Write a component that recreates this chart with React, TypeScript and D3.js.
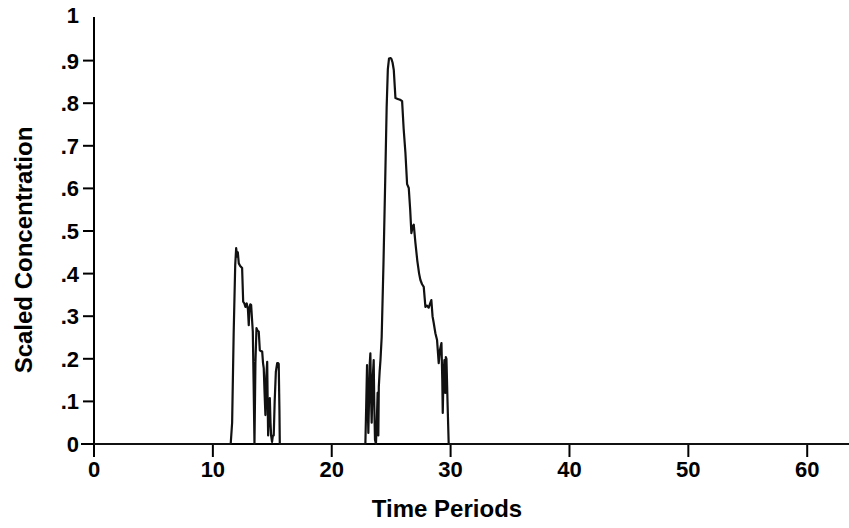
import React, { useEffect, useRef } from 'react';
import * as d3 from 'd3';

// readings taken off the scanned curve (time period, scaled concentration)
const times = [
  0, 11.5, 11.62, 11.75, 11.88, 11.96, 12.04, 12.1, 12.18, 12.3, 12.46, 12.55, 12.65, 12.74, 12.85,
  12.95, 13.02, 13.08, 13.15, 13.22, 13.3, 13.36, 13.43, 13.5, 13.58, 13.67, 13.76, 13.86, 13.95,
  14.05, 14.15, 14.22, 14.28, 14.35, 14.42, 14.5, 14.57, 14.61, 14.65, 14.72, 14.79, 14.85, 14.9,
  14.98, 15.05, 15.12, 15.2, 15.3, 15.41, 15.48, 15.54, 15.6, 15.63,
  22.83, 22.9, 22.97, 23.03, 23.08, 23.15, 23.2, 23.25, 23.3, 23.36, 23.44, 23.53, 23.58, 23.64,
  23.72, 23.8, 23.86, 23.92, 23.96, 24.03, 24.1, 24.2, 24.35, 24.5, 24.62, 24.72, 24.82, 24.95,
  25.02, 25.12, 25.22, 25.36, 25.55, 25.75, 25.92, 26.05, 26.2, 26.34, 26.48, 26.6, 26.7, 26.81,
  26.9, 27.04, 27.2, 27.35, 27.46, 27.6, 27.74, 27.88, 28.0, 28.16, 28.28, 28.38, 28.48, 28.58,
  28.72, 28.86, 29.0, 29.1, 29.23, 29.3, 29.34, 29.4, 29.48, 29.55, 29.6, 29.65, 29.75, 29.84,
  63.6,
];
const concentration = [
  0, 0, 0.05, 0.26, 0.42, 0.46, 0.44, 0.45, 0.424, 0.418, 0.413, 0.334, 0.33, 0.322, 0.33,
  0.316, 0.279, 0.32, 0.328, 0.326, 0.29, 0.264, 0.14, 0, 0.19, 0.272, 0.266, 0.264, 0.22,
  0.218, 0.217, 0.19, 0.178, 0.12, 0.068, 0.16, 0.193, 0.1, 0.02, 0.07, 0.108, 0.05, 0.02,
  0.005, 0.02, 0.02, 0.1, 0.17, 0.19, 0.19, 0.188, 0.08, 0,
  0, 0.09, 0.185, 0.09, 0.026, 0.12, 0.19, 0.213, 0.12, 0.05, 0.15, 0.197, 0.09, 0.01,
  0, 0.06, 0.12, 0.02, 0.134, 0.17, 0.197, 0.25, 0.42, 0.62, 0.79, 0.88, 0.905, 0.906,
  0.904, 0.895, 0.878, 0.812, 0.81, 0.808, 0.805, 0.74, 0.683, 0.61, 0.601, 0.55, 0.495, 0.51,
  0.515, 0.472, 0.43, 0.4, 0.385, 0.375, 0.369, 0.322, 0.325, 0.32, 0.33, 0.338, 0.3, 0.284,
  0.26, 0.244, 0.19, 0.22, 0.237, 0.15, 0.073, 0.16, 0.197, 0.12, 0.204, 0.2, 0.09, 0,
  0,
];

const xTicks = [0, 10, 20, 30, 40, 50, 60];
const yTicks = [0, 0.1, 0.2, 0.3, 0.4, 0.5, 0.6, 0.7, 0.8, 0.9, 1];
const yTickLabels = ['0', '.1', '.2', '.3', '.4', '.5', '.6', '.7', '.8', '.9', '1'];

const App = () => {
  const ref = useRef<SVGSVGElement>(null);

  useEffect(() => {
    const width = 849;
    const height = 528;
    const font = '"Liberation Sans", Arial, Helvetica, sans-serif';

    const x = d3.scaleLinear().domain([0, 63.6]).range([94, 850]);
    const y = d3.scaleLinear().domain([0, 1]).range([444, 18]);

    const svg = d3.select(ref.current);
    svg.selectAll('*').remove();
    svg.attr('width', width).attr('height', height).attr('viewBox', [0, 0, width, height]);

    svg.append('rect').attr('width', width).attr('height', height).attr('fill', '#fff');

    // x axis
    const gx = svg.append('g').attr('transform', `translate(0,${y(0)})`);
    gx.append('line')
      .attr('x1', 81).attr('x2', width)
      .attr('stroke', '#000').attr('stroke-width', 2);
    const xt = gx.selectAll('g.xt').data(xTicks).join('g')
      .attr('transform', d => `translate(${x(d)},0)`);
    xt.append('line').attr('y2', 13).attr('stroke', '#000').attr('stroke-width', 2);
    xt.append('text')
      .attr('y', 33)
      .attr('text-anchor', 'middle')
      .attr('font-family', font).attr('font-weight', 'bold').attr('font-size', 22)
      .text(d => d);

    // y axis
    const gy = svg.append('g').attr('transform', `translate(${x(0)},0)`);
    gy.append('line')
      .attr('y1', y(1) - 1).attr('y2', y(0))
      .attr('stroke', '#000').attr('stroke-width', 2);
    const yt = gy.selectAll('g.yt').data(yTicks).join('g')
      .attr('transform', d => `translate(0,${y(d)})`);
    yt.append('line')
      .attr('x1', d => (d === 1 ? 0 : -11))
      .attr('stroke', '#000').attr('stroke-width', 2);
    yt.append('text')
      .attr('x', -15)
      .attr('dy', d => (d === 1 ? '0.22em' : '0.36em'))
      .attr('text-anchor', 'end')
      .attr('font-family', font).attr('font-weight', 'bold').attr('font-size', 22)
      .text((d, i) => yTickLabels[i]);

    // axis titles
    svg.append('text')
      .attr('x', 447).attr('y', 517)
      .attr('text-anchor', 'middle')
      .attr('font-family', font).attr('font-weight', 'bold').attr('font-size', 24)
      .text('Time Periods');
    svg.append('text')
      .attr('transform', 'translate(32,250) rotate(-90)')
      .attr('text-anchor', 'middle')
      .attr('font-family', font).attr('font-weight', 'bold').attr('font-size', 24)
      .text('Scaled Concentration');

    const pts = times.map((t, i) => ({ t, v: concentration[i] }));
    const line = d3.line<{ t: number; v: number }>()
      .x(d => x(d.t))
      .y(d => y(d.v));

    svg.append('path')
      .attr('d', line(pts))
      .attr('fill', 'none')
      .attr('stroke', '#111')
      .attr('stroke-width', 2.2)
      .attr('stroke-linejoin', 'round');
  }, []);

  return <svg ref={ref} style={{ position: 'absolute', left: 0, top: 0 }} />;
};

export default App;
